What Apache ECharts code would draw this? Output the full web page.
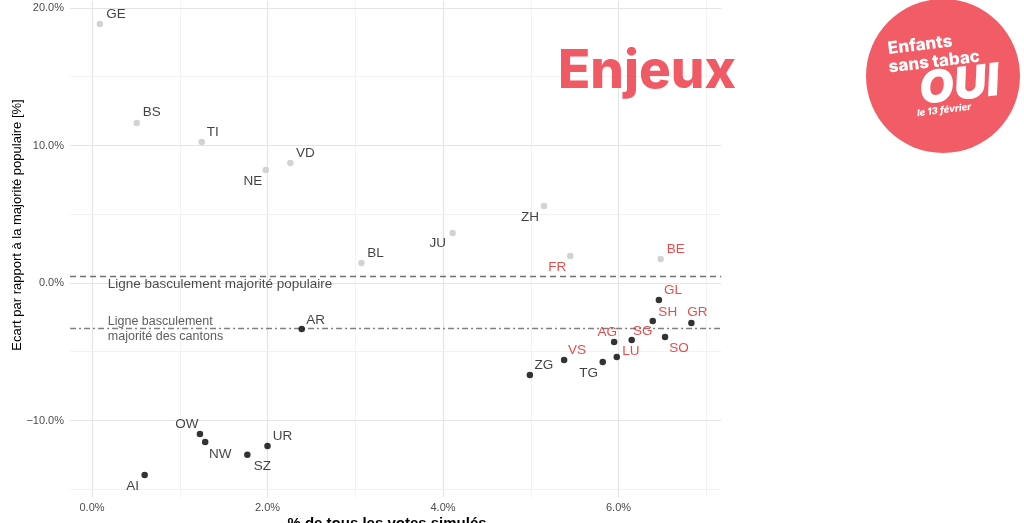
<!DOCTYPE html>
<html><head><meta charset="utf-8">
<script src="https://cdn.jsdelivr.net/npm/echarts@6/dist/echarts.min.js"></script>
<style>html,body{margin:0;padding:0;background:#fff}#c{width:1024px;height:523px}</style>
</head><body><div id="c"></div>
<script>
// ---- data ----
const cantons = ['GE','BS','TI','NE','VD','BL','JU','ZH','FR','BE','GL','SH','GR','SG','SO','AG','LU','TG','VS','ZG','AR','OW','NW','UR','SZ','AI'];
const shareVotes = [0.09,0.51,1.25,1.98,2.26,3.07,4.11,5.15,5.45,6.48,6.46,6.39,6.83,6.15,6.53,5.95,5.98,5.82,5.38,4.99,2.39,1.23,1.29,2.00,1.77,0.60];
const gapMajority = [18.84,11.64,10.25,8.22,8.73,1.45,3.64,5.60,1.96,1.75,-1.24,-2.76,-2.91,-4.15,-3.93,-4.29,-5.38,-5.75,-5.60,-6.69,-3.35,-10.98,-11.56,-11.85,-12.50,-13.96];
const redCantons = ['FR','BE','GL','SH','GR','SG','SO','AG','LU','VS'];
const popularLine = 0.46;
const cantonLine = -3.32;
const xMajor = [0,2,4,6];
const xMinor = [1,3,5,7];
const yMajor = [-10,0,10,20];
const yMinor = [-15,-5,5,15];
const annoPopular = 'Ligne basculement majorité populaire';
const annoCantons = 'Ligne basculement\nmajorité des cantons';

// ---- label placement (style config) ----
const labelOffsets = {GE:[16,-10],BS:[15,-11],TI:[11,-10],NE:[-13,11],VD:[15,-10],BL:[14,-10],JU:[-15,10],ZH:[-14,11],FR:[-13,11],BE:[15,-10],GL:[14,-10],SH:[15,-9],GR:[6,-11],SG:[11,-9],SO:[14,11],AG:[-7,-10],LU:[14,-6],TG:[-14,11],VS:[13,-10],ZG:[14,-10],AR:[14,-9],OW:[-13,-10],NW:[15,12],UR:[15,-10],SZ:[15,11],AI:[-12,11]};

const FONT = 'Liberation Sans, Arial, sans-serif';
const SYM = 6.5;
const pct = v => (v < 0 ? '\u2212' : '') + Math.abs(v).toFixed(1) + '%';

const points = cantons.map((c, i) => ({
  name: c,
  value: [shareVotes[i], gapMajority[i]],
  itemStyle: { color: gapMajority[i] > popularLine ? '#c8c8c8' : '#000000' },
  label: { color: redCantons.includes(c) ? '#e0201e' : '#111111',
           position: [SYM / 2 + labelOffsets[c][0], SYM / 2 + labelOffsets[c][1]] }
}));

const gridLines = [
  ...xMajor.map(v => ({ xAxis: v, lineStyle: { color: '#e4e4e4', width: 1.2, type: 'solid' } })),
  ...xMinor.map(v => ({ xAxis: v, lineStyle: { color: '#efefef', width: 0.8, type: 'solid' } })),
  ...yMajor.map(v => ({ yAxis: v, lineStyle: { color: '#e4e4e4', width: 1.2, type: 'solid' } })),
  ...yMinor.map(v => ({ yAxis: v, lineStyle: { color: '#efefef', width: 0.8, type: 'solid' } }))
];

const chart = echarts.init(document.getElementById('c'), null, { renderer: 'canvas' });
chart.setOption({
  animation: false,
  backgroundColor: '#ffffff',
  grid: [
    { left: 70.06, right: 302.8, top: 1.1, bottom: 25.5 },
    { left: 92, right: 405.5, top: 8, bottom: 102.5 }
  ],
  xAxis: [
    { gridIndex: 0, type: 'value', min: -0.25, max: 7.17, show: false, splitLine: { show: false } },
    { gridIndex: 1, type: 'value', min: 0, max: 6, interval: 2, position: 'bottom', offset: 77,
      axisLine: { show: false }, axisTick: { show: false }, splitLine: { show: false },
      axisLabel: { formatter: pct, color: '#4d4d4d', fontSize: 11, fontFamily: FONT, margin: 5 } }
  ],
  yAxis: [
    { gridIndex: 0, type: 'value', min: -15.6, max: 20.5, show: false, splitLine: { show: false } },
    { gridIndex: 1, type: 'value', min: -10, max: 20, interval: 10,
      axisLine: { show: false }, axisTick: { show: false }, splitLine: { show: false },
      axisLabel: { formatter: pct, color: '#4d4d4d', fontSize: 11, fontFamily: FONT, margin: 28 } }
  ],
  series: [
    { type: 'scatter', xAxisIndex: 0, yAxisIndex: 0, data: [], z: 1, silent: true,
      markLine: { z: 1, silent: true, symbol: 'none', label: { show: false }, data: gridLines } },
    { type: 'scatter', xAxisIndex: 0, yAxisIndex: 0, data: [], z: 2, silent: true,
      markLine: { z: 2, silent: true, symbol: 'none', label: { show: false }, data: [
        { yAxis: popularLine, lineStyle: { color: '#707070', width: 1.3, type: [6, 4] } },
        { yAxis: cantonLine, lineStyle: { color: '#808080', width: 1.3, type: [6, 3, 2, 3] } }
      ] } },
    { type: 'scatter', xAxisIndex: 0, yAxisIndex: 0, z: 8, symbolSize: 0, silent: true,
      label: { show: true, position: 'right', distance: 0, fontFamily: FONT, color: '#1a1a1a', textBorderWidth: 0 },
      data: [
        { value: [0.18, -0.1], label: { formatter: annoPopular, fontSize: 13.5 } },
        { value: [0.18, -3.34], label: { formatter: annoCantons, fontSize: 12.5, lineHeight: 14.5, color: '#333333' } }
      ] },
    { type: 'scatter', xAxisIndex: 0, yAxisIndex: 0, z: 10, symbolSize: SYM, data: points, silent: true,
      label: { show: true, formatter: '{b}', fontSize: 13.5, fontFamily: FONT, align: 'center', verticalAlign: 'middle',
               textBorderWidth: 0 } }
  ],
  graphic: [
    { type: 'text', z: 100, x: 387, y: 516, style: { text: '% de tous les votes simulés', fontSize: 15, fontWeight: 'bold', fontFamily: FONT, fill: '#000', align: 'center', verticalAlign: 'top' } },
    { type: 'text', z: 100, x: 17, y: 225, rotation: Math.PI / 2, style: { text: 'Ecart par rapport à la majorité populaire [%]', fontSize: 13, fontFamily: FONT, fill: '#000', align: 'center', verticalAlign: 'middle' } },
    { type: 'text', z: 100, x: 558, y: 72, style: { text: 'Enjeux', fontSize: 53, fontWeight: 800, fontFamily: 'Inter, sans-serif', fill: '#f05a64', align: 'left', verticalAlign: 'middle' } },
    { type: 'circle', z: 100, shape: { cx: 943, cy: 76, r: 77 }, style: { fill: '#f25c66' } },
    { type: 'group', z: 101, x: 943, y: 76, rotation: 0.12, children: [
      { type: 'text', z: 101, x: -19, y: -33.5, style: { text: 'Enfants', fontSize: 17, fontWeight: 800, fontFamily: 'Inter, sans-serif', fill: '#fff', align: 'center', verticalAlign: 'middle' } },
      { type: 'text', z: 101, x: -7, y: -15, style: { text: 'sans tabac', fontSize: 17, fontWeight: 800, fontFamily: 'Inter, sans-serif', fill: '#fff', align: 'center', verticalAlign: 'middle' } },
      { type: 'text', z: 101, x: 15, y: 12, style: { text: 'OUI', fontSize: 45, fontWeight: 900, fontStyle: 'italic', fontFamily: 'Inter, sans-serif', fill: '#fff', align: 'center', verticalAlign: 'middle' } },
      { type: 'text', z: 101, x: -3, y: 34, style: { text: 'le 13 février', fontSize: 9.5, fontWeight: 800, fontStyle: 'italic', fontFamily: 'Inter, sans-serif', fill: '#fff', align: 'center', verticalAlign: 'middle' } }
    ] }
  ]
});
</script></body></html>
